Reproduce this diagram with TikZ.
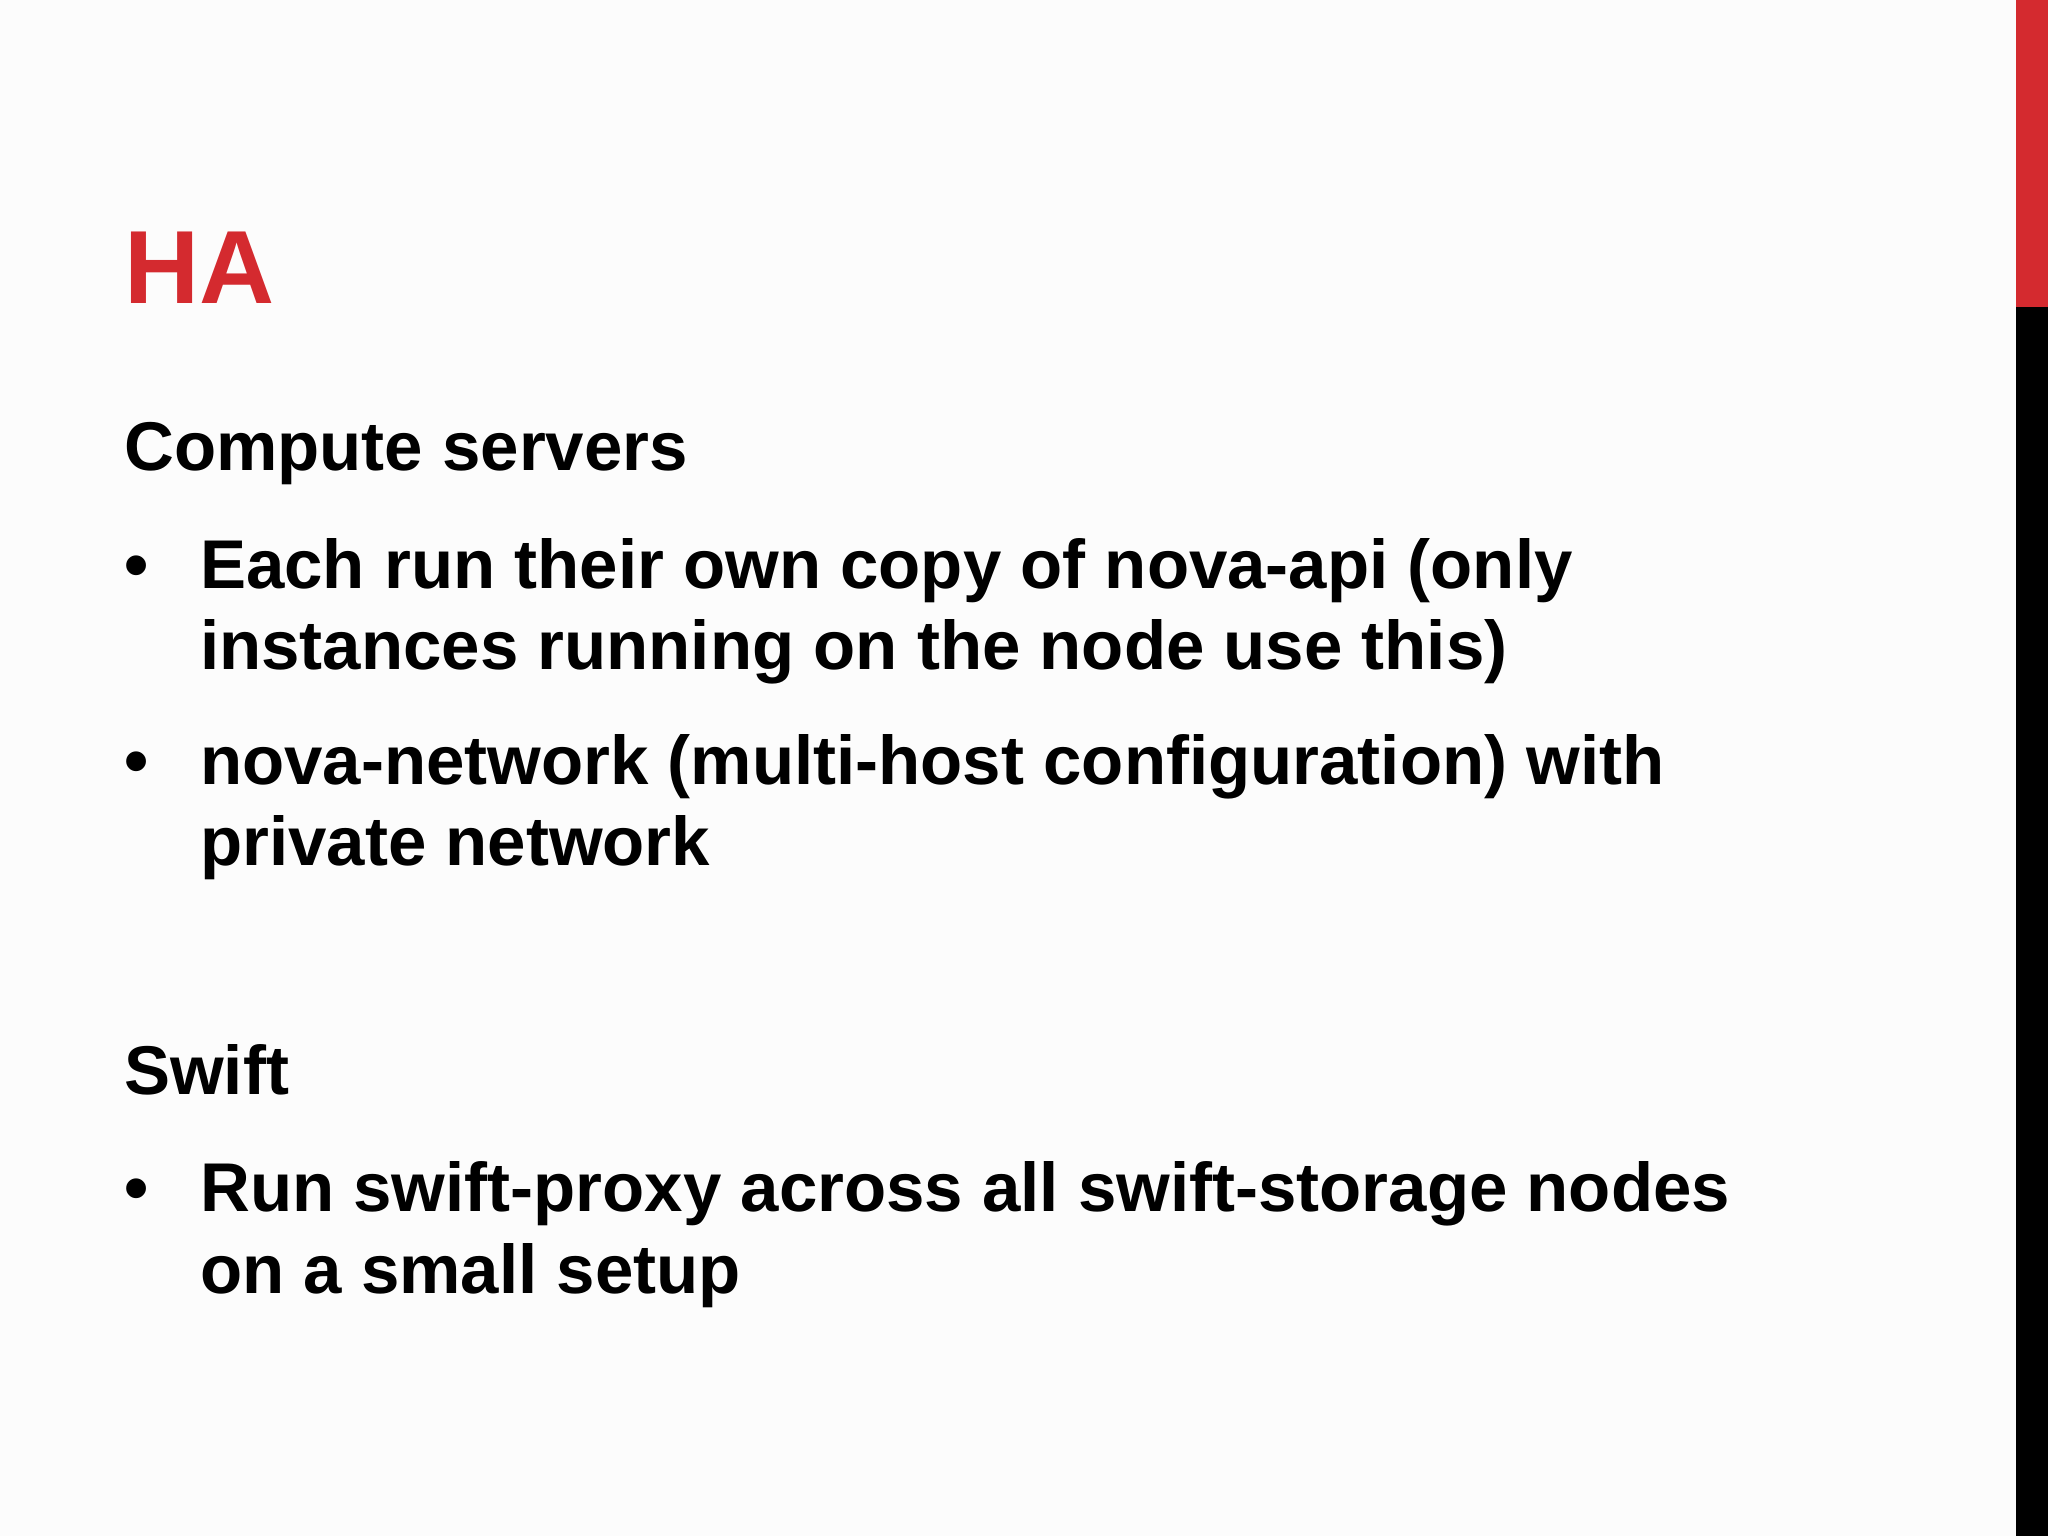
\documentclass[tikz,border=0pt]{standalone}
\usepackage{fontspec}
\setmainfont{Liberation Sans}
\begin{document}
\begin{tikzpicture}[x=1pt,y=-1pt,
  txt/.style={anchor=base west,inner sep=0pt,font=\fontsize{69}{81}\selectfont\bfseries},
  bul/.style={anchor=base west,inner sep=0pt,font=\fontsize{69}{81}\selectfont\bfseries}]
\definecolor{hared}{HTML}{D42A2F}
\fill[white!99!black] (0,0) rectangle (2048,1536);
\useasboundingbox (0,0) rectangle (2048,1536);
\fill[hared] (2016,0) rectangle (2048,307);
\fill[black] (2016,307) rectangle (2048,1536);
\node[anchor=base west,inner sep=0pt,text=hared,font=\fontsize{104}{104}\selectfont\bfseries] (title) at (124,303) {HA};
\node[txt] (h1) at (124,470) {Compute servers};
\node[bul] (b1) at (124,588) {\textbullet};
\node[txt] (t1a) at (200,588) {Each run their own copy of nova-api (only};
\node[txt] (t1b) at (200,669) {instances running on the node use this)};
\node[bul] (b2) at (124,784) {\textbullet};
\node[txt] (t2a) at (200,784) {nova-network (multi-host configuration) with};
\node[txt] (t2b) at (200,865) {private network};
\node[txt] (h2) at (124,1094) {Swift};
\node[bul] (b3) at (124,1211) {\textbullet};
\node[txt] (t3a) at (200,1211) {Run swift-proxy across all swift-storage nodes};
\node[txt] (t3b) at (200,1293) {on a small setup};
\end{tikzpicture}
\end{document}
